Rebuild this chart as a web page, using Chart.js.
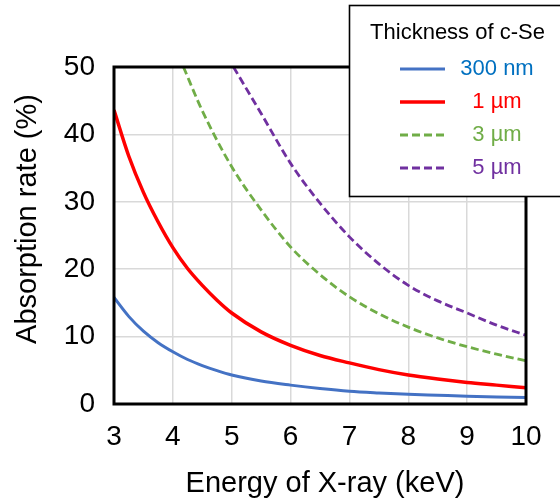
<!DOCTYPE html>
<html>
<head>
<meta charset="utf-8">
<script src="https://cdn.jsdelivr.net/npm/chart.js@4.4.1/dist/chart.umd.min.js"></script>
<style>
html,body{margin:0;padding:0;background:#fff;}
#wrap{width:560px;height:504px;position:relative;}
</style>
</head>
<body>
<div id="wrap"><canvas id="c" width="560" height="504"></canvas></div>
<script>
// ---- data ----
const energy = [3, 3.25, 3.5, 3.75, 4, 4.25, 4.5, 4.75, 5, 5.5, 6, 6.5, 7, 7.5, 8, 8.5, 9, 9.5, 10];
const se300nm = [15.8, 13.0, 10.8, 9.1, 7.75, 6.6, 5.7, 4.95, 4.3, 3.4, 2.8, 2.3, 1.9, 1.65, 1.45, 1.3, 1.15, 1.05, 0.95];
const se1um   = [43.6, 36.8, 31.4, 27.0, 23.2, 20.1, 17.6, 15.4, 13.5, 10.7, 8.7, 7.2, 6.1, 5.1, 4.3, 3.7, 3.2, 2.8, 2.4];
const energy3um = [4.18, 4.5, 5, 5.5, 6, 6.5, 7, 7.5, 8, 8.5, 9, 9.5, 10];
const se3um     = [50, 43.5, 35.2, 28.8, 23.3, 19.2, 15.9, 13.4, 11.4, 9.8, 8.5, 7.4, 6.4];
const energy5um = [5.03, 5.5, 6, 6.5, 7, 7.5, 8, 8.5, 9, 9.5, 10];
const se5um     = [50, 43.1, 35.7, 29.8, 24.8, 20.8, 17.6, 15.3, 13.5, 11.7, 10.2];
const xTicks = [3, 4, 5, 6, 7, 8, 9, 10];
const yTicks = [0, 10, 20, 30, 40, 50];
const seriesLabels = ['300 nm', '1 \u00b5m', '3 \u00b5m', '5 \u00b5m'];
const legendTitle = 'Thickness of c-Se';
const xTitle = 'Energy of X-ray (keV)';
const yTitle = 'Absorption rate (%)';

const lineColors = ['#4472C4', '#FF0000', '#70AD47', '#7030A0'];
const textColors = ['#0070C0', '#FF0000', '#70AD47', '#7030A0'];
const FONT = '"Liberation Sans", Arial, sans-serif';

function pts(xs, ys){ return xs.map((x,i)=>({x:x, y:ys[i]})); }

const frame = {
  id: 'frame',
  afterDraw(chart){
    const ctx = chart.ctx, a = chart.chartArea;
    ctx.save();
    // plot frame
    ctx.strokeStyle = '#000'; ctx.lineWidth = 3;
    ctx.strokeRect(a.left, a.top, a.right - a.left, a.bottom - a.top);
    // axis titles
    ctx.fillStyle = '#000';
    ctx.font = '29px ' + FONT;
    ctx.textAlign = 'center'; ctx.textBaseline = 'middle';
    ctx.fillText(xTitle, 325, 484);
    ctx.translate(28, 219); ctx.rotate(-Math.PI/2);
    ctx.fillText(yTitle, 0, 0);
    ctx.restore();

    // legend box
    ctx.save();
    ctx.fillStyle = '#fff';
    ctx.fillRect(349, 5, 220, 192);
    ctx.strokeStyle = '#000'; ctx.lineWidth = 1.6;
    ctx.strokeRect(349.5, 5.5, 220, 191);
    ctx.font = '22px ' + FONT;
    ctx.textAlign = 'center'; ctx.textBaseline = 'middle';
    ctx.fillStyle = '#000';
    ctx.fillText(legendTitle, 457.5, 33);
    const ys = [69, 102, 135, 168];
    chart.data.datasets.forEach((ds, i) => {
      const y = ys[i];
      ctx.beginPath();
      ctx.strokeStyle = ds.borderColor;
      ctx.lineWidth = ds.borderWidth;
      ctx.setLineDash(ds.borderDash || []);
      ctx.moveTo(400, y); ctx.lineTo(445, y);
      ctx.stroke();
      ctx.setLineDash([]);
      ctx.fillStyle = textColors[i];
      ctx.fillText(seriesLabels[i], 497, y);
    });
    ctx.restore();
  }
};

new Chart(document.getElementById('c'), {
  type: 'line',
  data: {
    datasets: [
      {label: seriesLabels[0], data: pts(energy, se300nm), borderColor: lineColors[0], borderWidth: 3},
      {label: seriesLabels[1], data: pts(energy, se1um), borderColor: lineColors[1], borderWidth: 3.5},
      {label: seriesLabels[2], data: pts(energy3um, se3um), borderColor: lineColors[2], borderWidth: 2.8, borderDash: [8,4]},
      {label: seriesLabels[3], data: pts(energy5um, se5um), borderColor: lineColors[3], borderWidth: 2.8, borderDash: [8,4]}
    ]
  },
  options: {
    responsive: false,
    animation: false,
    layout: {padding: {top: 67, right: 34, left: 0, bottom: 0}},
    elements: {point: {radius: 0}, line: {cubicInterpolationMode: 'monotone', fill: false}},
    plugins: {legend: {display: false}, tooltip: {enabled: false}},
    scales: {
      x: {
        type: 'linear', min: 3, max: 10,
        afterFit(s){ s.height = 100; },
        afterBuildTicks(s){ s.ticks = xTicks.map(v => ({value: v})); },
        grid: {color: '#D9D9D9', lineWidth: 1.5, drawTicks: false},
        border: {display: false},
        ticks: {color: '#000', font: {size: 28, family: FONT}, padding: 16, maxRotation: 0}
      },
      y: {
        min: 0, max: 50,
        afterFit(s){ s.width = 114; },
        ticks: {stepSize: 5, color: '#000', font: {size: 28, family: FONT}, padding: 19,
          callback: v => yTicks.includes(v) ? String(v) : ''},
        grid: {color: '#D9D9D9', lineWidth: 1.5, drawTicks: false},
        border: {display: false}
      }
    }
  },
  plugins: [frame]
});
</script>
</body>
</html>
